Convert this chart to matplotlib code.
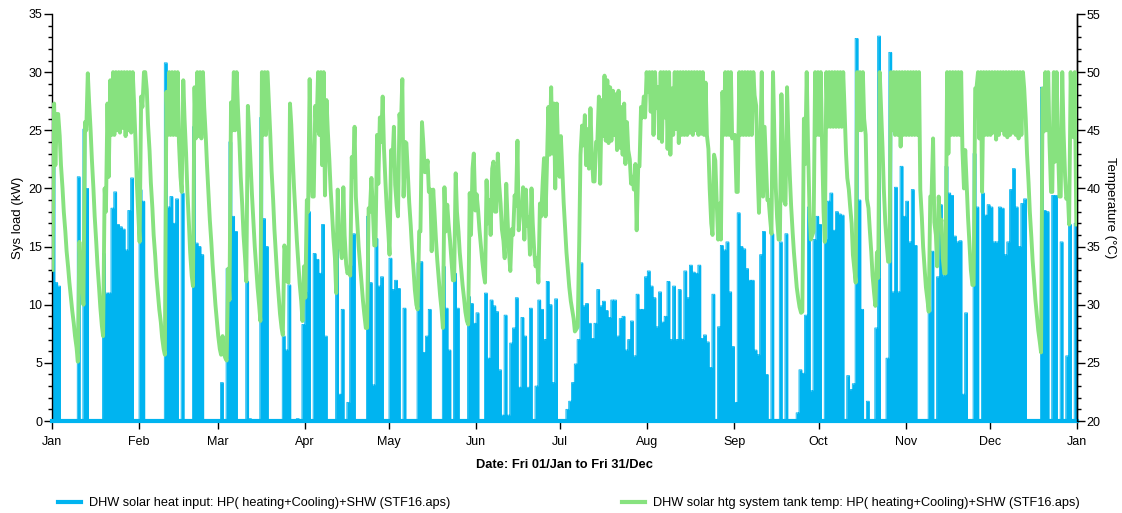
import numpy as np
import matplotlib
matplotlib.use("Agg")
import matplotlib.pyplot as plt
from matplotlib.lines import Line2D
from matplotlib.ticker import MultipleLocator

# x axis: day of year, ticks at the first of each month
month_start_days = [0, 31, 59, 90, 120, 151, 181, 212, 243, 273, 304, 334, 365]
month_labels = ["Jan", "Feb", "Mar", "Apr", "May", "Jun", "Jul",
                "Aug", "Sep", "Oct", "Nov", "Dec", "Jan"]

# daily peak of DHW solar heat input (kW)
load_kw = [
    # Jan
    24.4, 11.9, 11.6, 0, 0, 0, 0, 0, 0, 21.0, 0, 25.1, 20.0, 0, 0, 0, 0, 0, 14.4, 11.0,
    11.0, 18.3, 19.7, 16.9, 16.7, 16.5, 14.7, 18.1, 20.9, 0, 0,
    # Feb
    19.9, 18.9, 0, 0, 0, 0, 0, 0, 0, 30.8, 18.4, 19.3, 17.0, 19.1, 0, 19.6, 0, 0, 0, 25.3,
    15.3, 15.0, 14.3, 0, 0, 0, 0, 0,
    # Mar
    0, 3.3, 0, 13.1, 24.0, 17.6, 16.3, 0, 0, 0, 12.0, 0.2, 0, 0, 0, 26.1, 17.4, 15.0, 0, 0,
    0, 0, 0, 7.3, 6.1, 11.7, 0, 0, 0.2, 0, 8.3,
    # Apr
    11.0, 18.0, 0, 14.4, 13.9, 12.7, 16.9, 7.3, 0, 0, 0, 15.3, 2.3, 9.6, 0, 1.6, 13.3, 16.1, 0, 0,
    0, 0, 17.6, 11.9, 3.1, 15.7, 11.6, 12.4, 0, 0,
    # May
    14.0, 11.3, 12.1, 11.4, 0, 9.7, 0, 0, 0, 0, 13.6, 13.7, 5.9, 7.3, 9.6, 0, 0, 0, 0, 13.3,
    9.7, 6.1, 0, 12.7, 9.7, 0, 0, 0, 10.7, 10.1, 8.4,
    # Jun
    9.3, 0, 0, 11.0, 5.4, 10.4, 9.9, 9.4, 4.4, 0.5, 9.1, 0.5, 6.7, 8.0, 10.6, 2.9, 8.9, 7.3, 2.9, 9.7,
    0, 3.0, 10.4, 9.6, 7.0, 12.0, 10.0, 3.3, 10.5, 0,
    # Jul
    0, 0, 1.0, 1.7, 3.3, 4.9, 7.0, 13.6, 9.9, 10.1, 8.4, 7.1, 8.4, 11.3, 9.9, 10.3, 9.5, 8.9, 10.4, 10.4,
    7.3, 8.8, 9.0, 6.1, 7.0, 8.6, 5.6, 10.9, 9.6, 9.6, 12.4,
    # Aug
    12.9, 11.6, 10.6, 8.1, 11.1, 8.5, 9.0, 12.0, 7.0, 11.6, 7.0, 11.3, 7.0, 12.9, 10.6, 13.4, 12.8, 12.7, 13.4, 7.1,
    7.4, 6.8, 4.6, 10.9, 0, 8.1, 15.1, 14.7, 15.4, 11.1, 6.4,
    # Sep
    1.6, 17.9, 15.0, 14.8, 13.1, 12.1, 12.1, 6.1, 5.7, 14.3, 16.3, 4.0, 0, 16.1, 0, 0, 15.4, 0, 16.1, 0,
    0, 0, 0.7, 4.4, 4.1, 9.1, 18.4, 2.6, 15.6, 17.6,
    # Oct
    16.9, 0, 15.6, 18.9, 19.6, 16.4, 18.0, 17.8, 17.7, 0, 3.9, 2.7, 3.2, 32.9, 19.0, 9.6, 0, 1.7, 0, 0,
    8.0, 33.1, 0, 0, 5.4, 31.7, 11.1, 20.1, 11.1, 21.9, 17.6,
    # Nov
    18.9, 15.4, 19.9, 15.1, 0, 0, 0, 0, 9.4, 14.6, 0, 12.4, 18.6, 12.5, 21.9, 19.6, 19.4, 15.9, 15.4, 15.5,
    2.3, 9.3, 0, 0, 23.0, 18.4, 0, 19.6, 17.7, 18.6,
    # Dec
    18.4, 15.4, 15.4, 18.4, 18.3, 14.3, 15.4, 19.9, 21.7, 18.4, 15.0, 18.7, 19.1, 0, 0, 0, 0, 0, 28.7, 18.1,
    18.0, 0, 19.4, 19.4, 0, 15.4, 0, 5.6, 16.9, 0, 17.0,
]

# tank temperature (degC): morning value and late-afternoon value of each day
tank_am = [
    # Jan
    33.0, 42.0, 46.4, 42.0, 38.0, 34.6, 31.9, 29.5, 27.3, 25.1, 33.0, 30.0, 45.0, 47.5, 42.5, 37.6, 33.4, 29.8, 27.3, 38.0,
    41.0, 44.6, 44.6, 45.0, 44.8, 45.2, 44.5, 45.0, 44.8, 47.5, 40.5,
    # Feb
    35.4, 47.0, 50.0, 45.5, 40.5, 36.0, 32.4, 29.6, 27.2, 25.7, 44.6, 44.6, 44.6, 44.6, 44.0, 39.7, 46.0, 39.8, 34.5, 31.6,
    44.3, 44.5, 44.3, 47.0, 42.0, 37.3, 33.4, 30.0,
    # Mar
    27.3, 25.7, 25.8, 25.2, 30.4, 45.0, 45.0, 47.0, 41.0, 36.0, 32.0, 45.0, 39.5, 35.0, 31.5, 28.6, 44.6, 44.6, 47.5, 41.5,
    36.5, 32.4, 29.2, 27.4, 34.4, 31.9, 45.5, 40.0, 35.5, 31.8, 28.6,
    # Apr
    30.6, 38.0, 42.4, 39.3, 45.0, 44.6, 42.0, 39.4, 45.0, 40.0, 35.8, 31.0, 35.6, 34.0, 36.0, 32.7, 32.5, 41.0, 39.3, 35.0,
    31.8, 29.2, 28.0, 38.0, 38.5, 35.1, 40.4, 44.0, 43.5, 38.3,
    # May
    34.3, 42.0, 40.3, 37.6, 45.0, 39.3, 43.9, 38.8, 34.8, 31.3, 29.6, 36.3, 44.0, 41.4, 39.7, 34.6, 38.0, 33.8, 30.8, 28.0,
    36.3, 37.0, 34.0, 32.1, 38.0, 34.5, 31.7, 29.4, 28.3, 36.0, 43.0,
    # Jun
    39.5, 36.5, 33.8, 31.9, 37.0, 36.0, 42.3, 38.0, 40.5, 36.5, 34.0, 37.5, 32.9, 36.0, 38.5, 36.4, 38.0, 35.6, 36.8, 34.3,
    37.0, 33.3, 31.9, 37.6, 42.6, 41.6, 42.9, 43.0, 40.0, 43.5,
    # Jul
    44.5, 38.8, 34.5, 31.5, 29.6, 27.7, 28.1, 42.9, 43.7, 42.0, 41.7, 43.1, 40.6, 44.0, 40.4, 44.5, 44.1, 43.9, 44.1, 44.6,
    43.3, 43.5, 42.9, 42.1, 43.3, 40.4, 39.9, 36.4, 41.9, 46.1, 46.1,
    # Aug
    48.3, 46.6, 44.6, 46.9, 44.3, 44.0, 46.1, 43.4, 42.9, 44.6, 45.1, 43.9, 44.6, 44.6, 44.6, 44.8, 44.6, 45.0, 44.6, 44.7,
    44.6, 44.6, 40.0, 36.0, 42.4, 35.6, 35.6, 44.6, 44.6, 44.6, 44.3,
    # Sep
    44.6, 39.7, 44.6, 44.6, 44.6, 44.6, 44.6, 48.0, 42.0, 43.4, 39.3, 42.4, 39.0, 36.1, 45.0, 37.5, 35.6, 43.0, 38.6, 44.5,
    38.5, 34.5, 31.5, 29.8, 29.4, 42.1, 44.0, 35.6, 36.3, 44.6,
    # Oct
    44.6, 44.0, 35.4, 45.3, 45.3, 45.3, 45.3, 45.3, 45.3, 47.0, 40.9, 38.5, 34.3, 31.9, 45.0, 45.0, 46.0, 39.1, 36.5, 32.5,
    29.9, 32.3, 47.0, 40.0, 35.4, 33.7, 45.0, 44.6, 44.6, 43.6, 44.6,
    # Nov
    44.6, 44.6, 44.6, 44.6, 44.6, 39.9, 35.0, 31.5, 29.4, 39.3, 37.1, 33.3, 36.7, 34.0, 32.7, 43.0, 44.6, 44.6, 44.6, 44.6,
    43.3, 43.3, 37.5, 33.0, 31.7, 48.6, 44.3, 39.7, 44.6, 44.6,
    # Dec
    44.6, 44.8, 44.2, 44.6, 45.0, 44.6, 44.4, 44.6, 44.8, 44.6, 44.3, 44.6, 48.6, 43.0, 38.0, 33.8, 30.4, 27.8, 25.9, 44.9,
    45.0, 44.0, 39.7, 42.3, 44.0, 39.3, 45.0, 39.1, 36.9, 46.0, 50.0,
]
tank_pm = [
    # Jan
    47.3, 46.4, 44.5, 40.0, 36.3, 33.2, 30.6, 28.4, 26.3, 35.4, 31.5, 45.7, 49.9, 45.0, 40.0, 35.4, 31.5, 28.2, 40.0, 47.3,
    49.3, 50, 50, 50, 50, 50, 50, 50, 50, 44.0, 37.8,
    # Feb
    47.9, 50, 48.5, 43.2, 38.3, 34.2, 30.9, 28.5, 26.2, 48.3, 50, 50, 50, 50, 41.0, 49.3, 43.0, 37.0, 32.5, 48.7,
    50, 50, 50, 44.5, 39.5, 35.3, 31.6, 28.5,
    # Mar
    26.2, 27.3, 25.4, 33.1, 47.4, 50, 50, 44.0, 38.5, 34.0, 47.1, 42.0, 37.0, 33.0, 30.0, 50, 50, 50, 44.5, 39.0,
    34.3, 30.6, 28.0, 35.1, 32.0, 47.3, 42.5, 37.5, 33.5, 30.3, 33.3,
    # Apr
    39.0, 49.4, 39.3, 47.1, 50, 50, 50, 47.6, 42.5, 37.8, 34.0, 39.9, 35.0, 40.1, 33.5, 33.0, 42.7, 45.3, 37.0, 33.3,
    30.3, 28.0, 38.3, 40.9, 35.1, 44.6, 46.1, 47.9, 40.5, 36.3,
    # May
    43.3, 45.3, 38.5, 46.4, 49.4, 44.0, 41.0, 36.8, 33.0, 30.0, 36.3, 45.7, 41.4, 42.4, 39.9, 39.9, 35.5, 32.2, 29.5, 40.1,
    38.6, 35.5, 32.1, 41.3, 36.3, 33.0, 30.5, 28.6, 39.6, 41.7, 38.1,
    # Jun
    38.1, 35.0, 32.6, 40.7, 39.0, 41.7, 38.0, 43.0, 38.7, 35.5, 40.4, 34.5, 36.5, 39.4, 44.1, 38.0, 40.1, 39.9, 37.5, 40.0,
    34.5, 34.0, 38.7, 40.6, 37.6, 47.0, 48.7, 47.3, 47.3, 41.0,
    # Jul
    41.5, 36.5, 32.8, 30.3, 28.8, 27.9, 35.5, 45.4, 46.3, 45.1, 46.9, 40.6, 44.0, 47.9, 47.6, 49.7, 49.3, 48.7, 48.4, 48.1,
    48.4, 47.0, 47.3, 45.7, 42.5, 41.0, 42.1, 41.9, 47.0, 47.9, 50,
    # Aug
    50, 50, 50, 48.7, 50, 50, 50, 50, 48.6, 50, 50, 50, 50, 50, 50, 50, 50, 50, 50, 50,
    49.1, 43.4, 37.0, 42.9, 38.5, 38.7, 48.3, 50, 50, 50, 44.6,
    # Sep
    39.7, 50, 50, 50, 50, 50, 50, 47.1, 37.9, 50, 45.3, 39.0, 37.3, 50, 40.0, 35.6, 48.1, 38.9, 48.7, 41.0,
    36.2, 32.8, 30.5, 29.3, 46.0, 50, 38.0, 36.0, 50, 50,
    # Oct
    50, 38.0, 50, 50, 50, 50, 50, 50, 50, 43.0, 39.9, 37.0, 33.0, 50, 50, 50, 44.6, 38.3, 34.5, 31.0,
    34.5, 50, 43.5, 37.0, 33.7, 50, 50, 50, 50, 50, 50,
    # Nov
    50, 50, 50, 50, 50, 37.5, 33.0, 30.4, 39.3, 44.3, 36.0, 39.3, 37.3, 32.7, 50, 50, 50, 50, 50, 50,
    40.0, 40.1, 35.0, 31.7, 48.6, 50, 50, 50, 50, 50,
    # Dec
    50, 50, 50, 50, 50, 50, 50, 50, 50, 50, 50, 50, 46.0, 40.5, 35.8, 32.0, 29.0, 26.8, 48.6, 50,
    50, 39.7, 50, 50, 39.3, 50, 41.1, 39.5, 50, 44.4, 36.9,
]

load_label = "DHW solar heat input: HP( heating+Cooling)+SHW (STF16.aps)"
tank_label = "DHW solar htg system tank temp: HP( heating+Cooling)+SHW (STF16.aps)"

BLUE = "#00B4F0"
GREEN = "#87E27F"
FONT = "Liberation Sans"

W, H = 1122, 513
fig = plt.figure(figsize=(W / 100, H / 100), dpi=100)
# plot area in pixels: x 52..1077, y 14..421
ax = fig.add_axes([52 / W, 1 - 421 / H, (1077 - 52) / W, (421 - 14) / H])
ax2 = ax.twinx()

days = np.arange(len(load_kw))
load = np.array(load_kw)
zeros = np.zeros_like(load)

# heat input: one flat pulse per day; neighbouring days join into a solid block
bx = np.column_stack([days, days, days + 1, days + 1]).ravel()
by = np.column_stack([zeros, load, load, zeros]).ravel()
ax.fill_between(bx, 0, by, color=BLUE, lw=0, zorder=2)
ax.plot(bx, by, color=BLUE, lw=0.6, zorder=2)
ax.axhline(0, color=BLUE, lw=3, zorder=3, clip_on=False)

# tank temperature: morning and afternoon reading of each day
tx = np.column_stack([days + 0.2, days + 0.75]).ravel()
ty = np.column_stack([tank_am, tank_pm]).ravel()
ax2.plot(tx, ty, color=GREEN, lw=2.8, solid_joinstyle="round", zorder=3)

ax.set_xlim(0, 365)
ax.set_ylim(0, 35)
ax2.set_ylim(20, 55)

for a in (ax, ax2):
    a.spines["top"].set_visible(False)
    for s in a.spines.values():
        s.set_linewidth(1.0)
    a.yaxis.set_major_locator(MultipleLocator(5))
    a.yaxis.set_minor_locator(MultipleLocator(1))
    a.tick_params(axis="y", which="major", direction="out", length=6, width=1, pad=1,
                  labelsize=9)
    a.tick_params(axis="y", which="minor", direction="out", length=3, width=1)
    for lab in a.get_yticklabels():
        lab.set_fontfamily(FONT)
ax2.spines["left"].set_visible(False)
ax2.spines["bottom"].set_visible(False)

ax.set_xticks(month_start_days)
ax.set_xticklabels(month_labels, fontfamily=FONT, fontsize=9)
ax.tick_params(axis="x", direction="out", length=6, width=1, pad=5)

fig.text(18 / W, 1 - 218 / H, "Sys load (kW)", rotation=90, ha="center", va="center",
         fontsize=9.5, fontfamily=FONT)
fig.text(1110 / W, 1 - 208 / H, "Temperature (°C)", rotation=-90, ha="center", va="center",
         fontsize=9.5, fontfamily=FONT)
fig.text(564 / W, 1 - 465 / H, "Date: Fri 01/Jan to Fri 31/Dec", ha="center", va="center",
         fontsize=9.3, fontweight="bold", fontfamily=FONT)

leg_font = {"family": FONT, "size": 9.2}
for color, label, x0 in [(BLUE, load_label, 58), (GREEN, tank_label, 622)]:
    fig.legend(handles=[Line2D([], [], color=color, lw=3)], labels=[label],
               loc="center left", bbox_to_anchor=(x0 / W, 1 - 503 / H), frameon=False,
               borderpad=0, borderaxespad=0, handlelength=1.8, handletextpad=0.6,
               prop=leg_font)

fig.savefig("out.png", dpi=100)
